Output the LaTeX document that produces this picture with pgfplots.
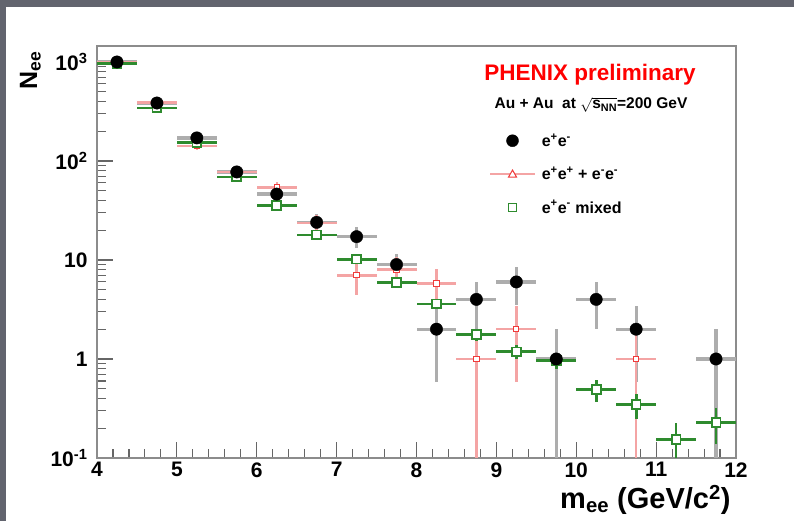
\documentclass[border=0pt]{standalone}
\usepackage{fontspec}
\setmainfont{Liberation Sans}
\usepackage{pgfplots}
\pgfplotsset{compat=1.18}
\usepackage{pgfplotstable}

\definecolor{slate}{HTML}{62646E}
\definecolor{rootgreen}{HTML}{2E8B2E}
\definecolor{rootred}{HTML}{F03A3A}
\definecolor{palered}{HTML}{F4A4A4}

% unlike-sign pairs: bin centre, half width, counts, error
\pgfplotstableread{
x     ex    y      ey
4.25  0.25  1000   31.6
4.75  0.25  385    19.6
5.25  0.25  171    13.1
5.75  0.25  77.5   8.8
6.25  0.25  46.3   6.8
6.75  0.25  24     4.9
7.25  0.25  17.2   4.1
7.75  0.25  9.0    2.4
8.25  0.25  2      1.41
8.75  0.25  4      2
9.25  0.25  6      2.45
9.75  0.25  1      0.99
10.25 0.25  4      2
10.75 0.25  2      1.41
11.75 0.25  1      0.99
}\unlikesign

% like-sign pairs
\pgfplotstableread{
x     ex    y      ey
4.25  0.25  1000   31.6
4.75  0.25  390    19.7
5.25  0.25  141    11.9
5.75  0.25  77     8.8
6.25  0.25  54     7.3
6.75  0.25  23.5   4.8
7.25  0.25  7.0    2.6
7.75  0.25  8.0    2.8
8.25  0.25  5.8    2.4
8.75  0.25  1      0.99
9.25  0.25  2      1.41
10.75 0.25  1      0.99
}\likesign

% mixed-event background
\pgfplotstableread{
x     ex    y      ey
4.25  0.25  960    5.5
4.75  0.25  343    3.3
5.25  0.25  153    2.2
5.75  0.25  69     1.5
6.25  0.25  35.3   1.05
6.75  0.25  17.9   0.75
7.25  0.25  10.2   0.56
7.75  0.25  5.9    0.43
8.25  0.25  3.6    0.33
8.75  0.25  1.77   0.235
9.25  0.25  1.18   0.19
9.75  0.25  0.97   0.174
10.25 0.25  0.49   0.12
10.75 0.25  0.345  0.10
11.25 0.25  0.153  0.073
11.75 0.25  0.229  0.09
}\mixed

\begin{document}
\begin{tikzpicture}[x=1pt,y=1pt]
\fill[slate] (0,0) rectangle (794,521);
\fill[white] (6,0) rectangle (794,514);

\begin{axis}[
  at={(97pt,63pt)}, anchor=south west,
  scale only axis, width=639pt, height=412pt,
  xmin=4, xmax=12,
  ymode=log, ymin=0.1, ymax=1450,
  xtick={4,5,6,7,8,9,10,11,12},
  xticklabels={4,5,6,7,8,9,10,11,12},
  minor x tick num=4,
  ytick={0.1,1,10,100,1000},
  yticklabels={10\textsuperscript{-1},1,10,10\textsuperscript{2},10\textsuperscript{3}},
  minor ytick={0.2,0.3,0.4,0.5,0.6,0.7,0.8,0.9,2,3,4,5,6,7,8,9,20,30,40,50,60,70,80,90,200,300,400,500,600,700,800,900},
  tick pos=left, tick align=inside,
  major tick length=16pt, minor tick length=9pt,
  tick style={black!60, line width=1.1pt},
  axis line style={black!45, line width=2.5pt},
  ticklabel style={font=\fontsize{21}{21}\selectfont\bfseries},
  xticklabel style={yshift=-1pt},
  yticklabel style={xshift=-6pt},
  clip=true,
  legend style={draw=none, fill=none, at={(0.6135,0.788)}, anchor=north west,
    inner sep=0pt, column sep=6pt, row sep=19pt,
    nodes={inner sep=0pt},
    font=\fontsize{16}{16}\selectfont\bfseries},
  legend cell align=left,
]

% unlike-sign error bars
\addplot[only marks, mark=none, forget plot, line width=3.2pt,
  error bars/.cd, x dir=both, x explicit, y dir=both, y explicit, error mark=none,
  error bar style={line width=3.2pt, draw=black!32}]
  table[x=x, y=y, x error=ex, y error=ey] {\unlikesign};

% like-sign pairs
\addplot[only marks, mark=square*, mark size=2.6pt, line width=2.4pt,
  mark options={draw=rootred, fill=white, line width=1pt}, forget plot,
  error bars/.cd, x dir=both, x explicit, y dir=both, y explicit, error mark=none,
  error bar style={line width=2.4pt, draw=palered}]
  table[x=x, y=y, x error=ex, y error=ey] {\likesign};

% mixed events
\addplot[only marks, mark=square*, mark size=4.4pt, line width=2.8pt,
  mark options={draw=rootgreen, fill=white, line width=1.8pt}, forget plot,
  error bars/.cd, x dir=both, x explicit, y dir=both, y explicit, error mark=none,
  error bar style={line width=2.8pt, draw=rootgreen}]
  table[x=x, y=y, x error=ex, y error=ey] {\mixed};

% unlike-sign markers on top
\addplot[only marks, mark=*, mark size=6.2pt, black, forget plot]
  table[x=x, y=y] {\unlikesign};

\addlegendimage{legend image code/.code={\path[draw=none, fill=none] (0pt,-7pt) rectangle (45pt,7pt); \fill[black] (22.5pt,0pt) circle (6pt);}}
\addlegendentry{e\textsuperscript{+}e\textsuperscript{-}}
\addlegendimage{legend image code/.code={\path[draw=none, fill=none] (0pt,-7pt) rectangle (45pt,7pt); \draw[palered, line width=1.6pt] (0pt,0pt) -- (45pt,0pt); \draw[rootred, fill=white, line width=1pt] (18.5pt,-3pt) -- (26.5pt,-3pt) -- (22.5pt,4pt) -- cycle;}}
\addlegendentry{e\textsuperscript{+}e\textsuperscript{+} + e\textsuperscript{-}e\textsuperscript{-}}
\addlegendimage{legend image code/.code={\path[draw=none, fill=none] (0pt,-7pt) rectangle (45pt,7pt); \draw[rootgreen, fill=white, line width=1.2pt] (18.5pt,-4pt) rectangle (26.5pt,4pt);}}
\addlegendentry{e\textsuperscript{+}e\textsuperscript{-} mixed}
\end{axis}

\node[anchor=base, text=red, font=\fontsize{22.5}{22.5}\selectfont\bfseries] at (590,440) {PHENIX preliminary};
\node[anchor=base, inner sep=1pt, font=\fontsize{15.5}{15.5}\selectfont\bfseries] at (591,412) {Au + Au\ \ at $\sqrt{\mbox{s\textsubscript{NN}}}$=200 GeV};
\node[rotate=90, anchor=base east, font=\fontsize{25}{25}\selectfont\bfseries] at (37,473) {N\textsubscript{ee}};
\node[anchor=base east, font=\fontsize{29}{29}\selectfont\bfseries] at (734,12) {m\textsubscript{ee} (GeV/c\textsuperscript{2})};
\end{tikzpicture}
\end{document}
